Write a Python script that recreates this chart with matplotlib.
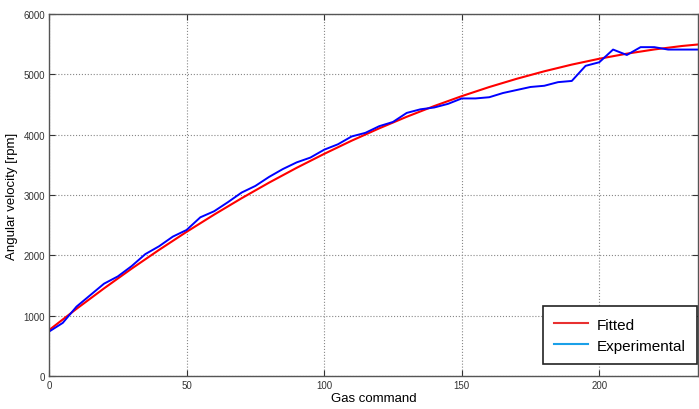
import matplotlib
matplotlib.use('Agg')
import matplotlib.pyplot as plt
from matplotlib.lines import Line2D

plt.rcParams['font.family'] = ['Liberation Sans', 'DejaVu Sans']

# experimental data (gas command every 5 units)
gas_exp = [0, 5, 10, 15, 20, 25, 30, 35, 40, 45, 50, 55, 60, 65, 70, 75, 80, 85, 90, 95,
           100, 105, 110, 115, 120, 125, 130, 135, 140, 145, 150, 155, 160, 165, 170, 175,
           180, 185, 190, 195, 200, 205, 210, 215, 220, 225, 230, 235, 240]
rpm_exp = [735, 880, 1150, 1340, 1530, 1650, 1820, 2020, 2150, 2310, 2420, 2630, 2730, 2880,
           3040, 3150, 3300, 3430, 3540, 3620, 3750, 3840, 3970, 4030, 4140, 4210, 4360, 4420,
           4450, 4510, 4600, 4600, 4620, 4690, 4740, 4790, 4810, 4870, 4890, 5140, 5200, 5410,
           5320, 5450, 5450, 5410, 5410, 5410, 5410]

# fitted curve
gas_fit = [0, 10, 20, 30, 40, 50, 60, 70, 80, 90, 100, 110, 120, 130, 140, 150, 160,
           170, 180, 190, 200, 210, 220, 230, 240]
rpm_fit = [760, 1113, 1452, 1778, 2090, 2389, 2674, 2946, 3205, 3450, 3681, 3900, 4104,
           4296, 4474, 4638, 4789, 4926, 5050, 5161, 5258, 5342, 5412, 5469, 5512]

fig = plt.figure(figsize=(6.99, 4.10), dpi=100)
ax = fig.add_axes([0.0701, 0.0805, 0.929, 0.883])

ax.plot(gas_fit, rpm_fit, color='#ff0000', lw=1.5)
ax.plot(gas_exp, rpm_exp, color='#0000ff', lw=1.4)

ax.set_xlim(0, 236)
ax.set_ylim(0, 6000)
ax.set_xticks([0, 50, 100, 150, 200])
ax.set_yticks([0, 1000, 2000, 3000, 4000, 5000, 6000])
ax.grid(True, linestyle=':', color='#888888', lw=0.8)
ax.tick_params(direction='in', top=True, right=True, labelsize=7, colors='#333333',
               length=4, pad=3)
for s in ax.spines.values():
    s.set_color('#555555')
    s.set_linewidth(1.0)

ax.set_xlabel('Gas command', fontsize=9.5, labelpad=1)
ax.set_ylabel('Angular velocity [rpm]', fontsize=9.5, labelpad=4)

handles = [Line2D([], [], color='#e83030', lw=1.5),
           Line2D([], [], color='#1aa0e8', lw=1.5)]
leg = ax.legend(handles, ['Fitted', 'Experimental'], loc='lower right',
                fontsize=11, fancybox=False, framealpha=1, edgecolor='#222222',
                borderpad=0.75, handlelength=2.2, handletextpad=0.6, labelspacing=0.45,
                borderaxespad=0, bbox_to_anchor=(0.9985, 0.033))
leg.get_frame().set_linewidth(1.2)

fig.savefig('out.png', dpi=100)
